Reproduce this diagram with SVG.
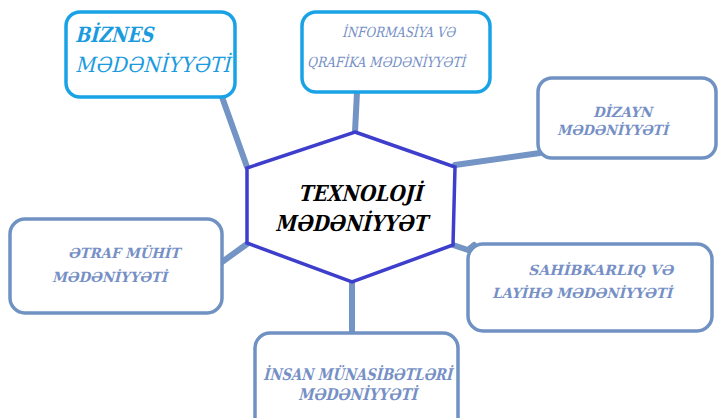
<svg xmlns="http://www.w3.org/2000/svg" width="719" height="418" viewBox="0 0 719 418">
<style>
.conn{stroke:#7394c4;stroke-width:6;fill:none;stroke-linecap:round;stroke-linejoin:round}
.box{fill:#fff;stroke:#7092c3;stroke-width:3.5}
.boxb{fill:#fff;stroke:#19a2e6;stroke-width:3.5}
.hex{fill:#fff;stroke:#3e3ecc;stroke-width:3.5;stroke-linejoin:miter}
.t{font-family:"DejaVu Serif","Liberation Serif",serif;fill:#7690c6}
.tb{font-weight:bold}
.tc{font-family:"DejaVu Serif","Liberation Serif",serif;font-weight:bold;fill:#000;font-size:22px}
.tz{font-family:"DejaVu Serif","Liberation Serif",serif;fill:#1a9be0;font-size:21px}
</style>
<g id="connectors">
<line class="conn" x1="222" y1="97" x2="247" y2="167"/>
<line class="conn" x1="357" y1="92" x2="355" y2="132"/>
<line class="conn" x1="455" y1="165" x2="540" y2="153"/>
<line class="conn" x1="222" y1="262" x2="247" y2="244"/>
<polyline class="conn" points="453,245 468,250 474,245"/>
<line class="conn" x1="352" y1="282" x2="352" y2="333"/>
</g>
<g id="center">
<polygon class="hex" points="355,132 455,167 453,245 352,282 247,243 247,168"/>
<g transform="translate(298,201) skewX(-14)"><text class="tc" textLength="124" lengthAdjust="spacingAndGlyphs">TEXNOLOJİ</text></g>
<g transform="translate(275,231) skewX(-14)"><text class="tc" textLength="152" lengthAdjust="spacingAndGlyphs">MƏDƏNİYYƏT</text></g>
</g>
<g id="biznes">
<rect class="boxb" x="66" y="12" width="169" height="85" rx="14"/>
<g transform="translate(75,42) skewX(-14)"><text class="tz" font-weight="bold" textLength="78" lengthAdjust="spacingAndGlyphs">BİZNES</text></g>
<g transform="translate(75,72) skewX(-14)"><text class="tz" textLength="155" lengthAdjust="spacingAndGlyphs">MƏDƏNİYYƏTİ</text></g>
</g>
<g id="informasiya">
<rect class="boxb" x="302" y="12" width="188" height="80" rx="14"/>
<g transform="translate(342,37) skewX(-14)"><text class="t" font-size="14" textLength="113" lengthAdjust="spacingAndGlyphs">İNFORMASİYA VƏ</text></g>
<g transform="translate(307,67) skewX(-14)"><text class="t" font-size="14" textLength="158" lengthAdjust="spacingAndGlyphs">QRAFİKA MƏDƏNİYYƏTİ</text></g>
</g>
<g id="dizayn">
<rect class="box" x="538" y="78" width="178" height="80" rx="14"/>
<g transform="translate(593,117) skewX(-14)"><text class="t tb" font-size="14" textLength="59" lengthAdjust="spacingAndGlyphs">DİZAYN</text></g>
<g transform="translate(557,135) skewX(-14)"><text class="t tb" font-size="14" textLength="111" lengthAdjust="spacingAndGlyphs">MƏDƏNİYYƏTİ</text></g>
</g>
<g id="etraf">
<rect class="box" x="10" y="219" width="212" height="94" rx="15"/>
<g transform="translate(68,258) skewX(-14)"><text class="t tb" font-size="14" textLength="112" lengthAdjust="spacingAndGlyphs">ƏTRAF MÜHİT</text></g>
<g transform="translate(52,282) skewX(-14)"><text class="t tb" font-size="14" textLength="115" lengthAdjust="spacingAndGlyphs">MƏDƏNİYYƏTİ</text></g>
</g>
<g id="sahibkarliq">
<rect class="box" x="468" y="244" width="244" height="87" rx="15"/>
<g transform="translate(528,275) skewX(-14)"><text class="t tb" font-size="14" textLength="145" lengthAdjust="spacingAndGlyphs">SAHİBKARLIQ VƏ</text></g>
<g transform="translate(492,298) skewX(-14)"><text class="t tb" font-size="14" textLength="180" lengthAdjust="spacingAndGlyphs">LAYİHƏ MƏDƏNİYYƏTİ</text></g>
</g>
<g id="insan">
<rect class="box" x="255" y="333" width="203" height="100" rx="15"/>
<g transform="translate(263,380) skewX(-14)"><text class="t tb" font-size="16" textLength="189" lengthAdjust="spacingAndGlyphs">İNSAN MÜNASİBƏTLƏRİ</text></g>
<g transform="translate(298,400) skewX(-14)"><text class="t tb" font-size="16" textLength="119" lengthAdjust="spacingAndGlyphs">MƏDƏNİYYƏTİ</text></g>
</g>
</svg>
